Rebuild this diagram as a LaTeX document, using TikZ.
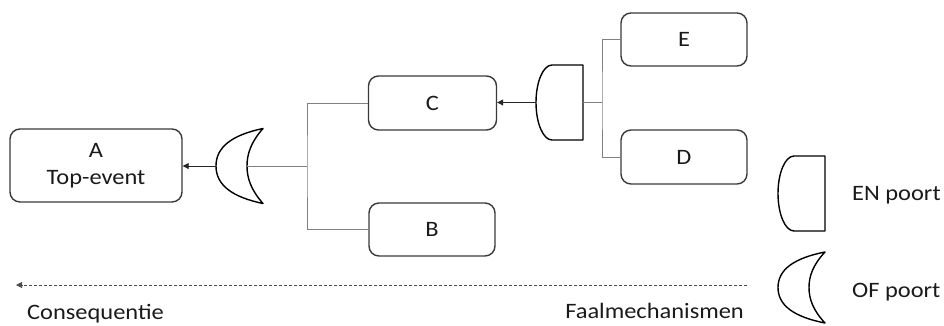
\documentclass[tikz,border=0pt]{standalone}
\usepackage{fontspec}
\setmainfont{Carlito}[FakeStretch=1.11]
\usetikzlibrary{arrows.meta}
\definecolor{boxline}{HTML}{3A3A3A}
\definecolor{connline}{HTML}{808080}
\definecolor{txt}{HTML}{1A1A1A}
\tikzset{
  evbox/.style={draw=boxline, line width=1.4pt, rounded corners=10pt, fill=white,
    inner sep=0pt, text=txt, font=\fontsize{22}{27}\selectfont, align=center},
  conn/.style={draw=connline, line width=0.9pt},
  arr/.style={draw=black!85, line width=0.9pt, -{Triangle[length=6pt,width=6pt]}},
  dasharr/.style={draw=black!70, line width=0.9pt, dash pattern=on 3pt off 2pt,
    -{Triangle[length=6pt,width=6pt]}},
  gateline/.style={draw=black, line width=1.4pt, line join=round},
  lbl/.style={text=txt, font=\fontsize{22}{27}\selectfont, inner sep=0pt},
  pics/orgate/.style={code={
    \draw[gateline] (0,-37.5) .. controls (-31,-31) and (-47,-19) .. (-47,0)
      .. controls (-47,19) and (-31,31) .. (0,37.5)
      .. controls (-12,24) and (-16,12) .. (-16,0)
      .. controls (-16,-12) and (-12,-24) .. cycle;
  }},
  pics/andgate/.style={code={
    \draw[gateline] (0,-37.5) -- (-31,-37.5)
      .. controls (-39.8,-37.5) and (-47,-20.7) .. (-47,0)
      .. controls (-47,20.7) and (-39.8,37.5) .. (-31,37.5) -- (0,37.5) -- cycle;
  }}
}
\begin{document}
\begin{tikzpicture}[x=1pt,y=-1pt]
\useasboundingbox (0,0) rectangle (944,325);

% event boxes
\node[evbox, minimum width=172pt, minimum height=73pt] (A) at (96,165.5) {A\\Top-event};
\node[evbox, minimum width=128pt, minimum height=54pt] (C) at (432.5,103) {C};
\node[evbox, minimum width=126pt, minimum height=53pt] (B) at (432,229.5) {B};
\node[evbox, minimum width=126pt, minimum height=53pt] (E) at (684,39.5) {E};
\node[evbox, minimum width=126pt, minimum height=54pt] (D) at (684,157) {D};

% gates
\pic at (263,166) {orgate};
\pic at (583,102.5) {andgate};
\coordinate (orout) at (216,166);
\coordinate (orin) at (247,166);
\coordinate (andout) at (536,102.5);
\coordinate (andin) at (583,102.5);
\coordinate (j1) at (307,166);
\coordinate (j2) at (602,102.5);

% connectors
\draw[conn] (orin) -- (j1);
\draw[conn] (C.west) -| (j1) |- (B.west);
\draw[conn] (andin) -- (j2);
\draw[conn] (E.west) -| (j2) |- (D.west);
\draw[arr] (orout) -- (A.east |- orout);
\draw[arr] (andout) -- (C.east |- andout);

% direction arrow
\coordinate (dashR) at (747,285);
\coordinate (dashL) at (16,285);
\draw[dasharr] (dashR) -- (dashL);
\node[lbl, anchor=base west] (cons) at (27,319) {Consequentie};
\node[lbl, anchor=base east] (faal) at (744,318) {Faalmechanismen};

% legend
\pic at (825,193.5) {andgate};
\pic[yscale=0.947] at (825,287.5) {orgate};
\node[lbl, anchor=base west] (en) at (852,200) {EN poort};
\node[lbl, anchor=base west] (of) at (852,297) {OF poort};
\end{tikzpicture}
\end{document}
